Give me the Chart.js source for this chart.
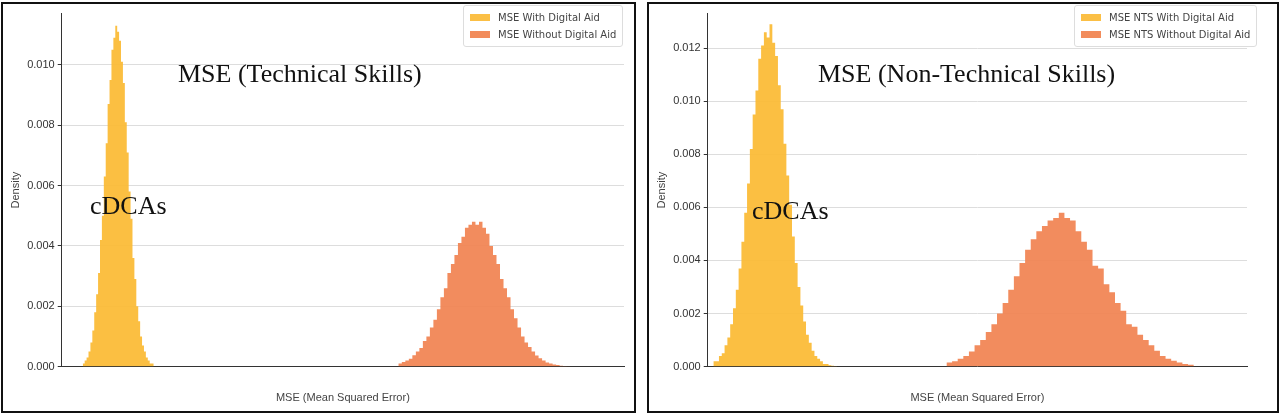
<!DOCTYPE html>
<html>
<head>
<meta charset="utf-8">
<script src="https://cdn.jsdelivr.net/npm/chart.js@4/dist/chart.umd.min.js"></script>
<style>
  body { margin: 0; background: #fff; width: 1280px; height: 419px; position: relative; overflow: hidden; font-family: "DejaVu Sans", sans-serif; }
  .panel { position: absolute; top: 2px; height: 411px; border: 2px solid #111; box-sizing: border-box; }
  .legend { position: absolute; background: rgba(255,255,255,0.9); border: 1px solid #ddd; border-radius: 3px; padding: 3px 6px; font-size: 10px; color: #444; }
  .legend div { display: flex; align-items: center; height: 17px; }
  .legend span { display: inline-block; width: 20px; height: 7px; margin-right: 8px; }
  .note { position: absolute; font-family: "Liberation Serif", serif; color: #111; }
</style>
</head>
<body>
<div class="panel" style="left:1px;width:635px"><canvas id="c1"></canvas></div>
<div class="panel" style="left:647px;width:632px"><canvas id="c2"></canvas></div>

<div class="legend" style="left:463px;top:5px">
  <div><span style="background:#FBBF45"></span>MSE With Digital Aid</div>
  <div><span style="background:#F28C5C"></span>MSE Without Digital Aid</div>
</div>
<div class="legend" style="left:1074px;top:5px">
  <div><span style="background:#FBBF45"></span>MSE NTS With Digital Aid</div>
  <div><span style="background:#F28C5C"></span>MSE NTS Without Digital Aid</div>
</div>
<div class="note" style="left:178px;top:59px;font-size:26px">MSE (Technical Skills)</div>
<div class="note" style="left:90px;top:191px;font-size:26px">cDCAs</div>
<div class="note" style="left:818px;top:59px;font-size:26px">MSE (Non-Technical Skills)</div>
<div class="note" style="left:752px;top:196px;font-size:26px">cDCAs</div>

<script>
// histogram bins: start of first bin and bin width, then densities
const tsWithStart = 342, tsWithWidth = 6;
const tsWith = [.0001, .0001, .0002, .0003, .0005, .0008, .0012, .0018, .0024, .0031, .0042, .0050, .0063, .0074, .0087, .0095, .0105, .0109, .0113, .0111, .0108, .0101, .0094, .0081, .0071, .0058, .0049, .0036, .0029, .0020, .0015, .0010, .0007, .0005, .0003, .0002, .0001, .0001];

const tsWithoutStart = 1332, tsWithoutWidth = 11;
const tsWithout = [.00007, .0001, .00015, .0002, .00026, .00038, .0005, .00062, .00085, .001, .0013, .00155, .0019, .0023, .0026, .0031, .0034, .0037, .0041, .0043, .0046, .0047, .0048, .0047, .0048, .0046, .0044, .0040, .0037, .0034, .0029, .0026, .0023, .0019, .0016, .0013, .0010, .0008, .00065, .0005, .00037, .00028, .0002, .00014, .0001, .00007, .00005, .00003, .00002, .00001];

const ntsWithStart = 255, ntsWithWidth = 5;
const ntsWith = [.0001, .0002, .0002, .0004, .0005, .0008, .0011, .0016, .0022, .0029, .0037, .0047, .0058, .0069, .0082, .0095, .0104, .0116, .0121, .0126, .0124, .0129, .0122, .0117, .0106, .0097, .0084, .0072, .0061, .0049, .0039, .0030, .0023, .0017, .0012, .0009, .0006, .0004, .0003, .0002, .0001, .0001, .00005, .00003, .00002];

const ntsWithoutStart = 670, ntsWithoutWidth = 10;
const ntsWithout = [.0001, .00015, .0002, .0003, .0004, .00057, .0008, .001, .0013, .0016, .002, .0024, .0029, .0034, .0039, .0044, .0048, .0051, .0053, .0055, .0056, .0058, .0056, .0055, .0051, .0047, .0044, .0038, .0037, .0031, .0028, .0024, .0021, .0016, .0015, .0012, .001, .0008, .0006, .0004, .0003, .00022, .00015, .0001, .00007];

const leftX = { min: 276, max: 2040, step: 200 }, leftY = { max: 0.0117, step: 0.002 };
const rightX = { min: 245, max: 1205, step: 200 }, rightY = { max: 0.0133, step: 0.002 };

const YELLOW = 'rgba(251,186,50,0.92)', ORANGE = 'rgba(241,130,80,0.92)';

// left bin edges with their density, closed by the right edge at zero
function toPoints(start, width, vals) {
  const pts = vals.map((v, i) => ({ x: start + width * i, y: v }));
  pts.push({ x: start + width * vals.length, y: 0 });
  return pts;
}

const isMultiple = (v, step) => Math.abs(v / step - Math.round(v / step)) < 1e-6;

function makeChart(id, sets, xr, yr, pad) {
  new Chart(document.getElementById(id), {
    type: 'line',
    data: {
      datasets: sets.map(s => ({
        data: toPoints(s.start, s.width, s.vals),
        backgroundColor: s.color,
        borderWidth: 0,
        pointRadius: 0,
        stepped: 'after',
        fill: 'origin'
      }))
    },
    options: {
      animation: false,
      responsive: true,
      maintainAspectRatio: false,
      layout: { padding: pad },
      plugins: { legend: { display: false }, tooltip: { enabled: false } },
      scales: {
        x: {
          type: 'linear', min: xr.min, max: xr.max,
          ticks: { stepSize: xr.step, color: '#333', font: { size: 11 }, maxRotation: 0, autoSkip: false,
                   callback: v => isMultiple(v, xr.step) ? String(v) : '' },
          grid: { color: c => isMultiple(c.tick.value, xr.step) ? '#ddd' : 'rgba(0,0,0,0)',
                  tickColor: c => isMultiple(c.tick.value, xr.step) ? '#333' : 'rgba(0,0,0,0)', tickLength: 4 },
          border: { color: '#333' },
          title: { display: true, text: 'MSE (Mean Squared Error)', color: '#444', font: { size: 11 }, padding: 2 }
        },
        y: {
          min: 0, max: yr.max,
          ticks: { stepSize: yr.step, color: '#333', font: { size: 11 }, autoSkip: false,
                   callback: v => isMultiple(v, yr.step) ? v.toFixed(3) : '' },
          grid: { color: c => isMultiple(c.tick.value, yr.step) ? '#ddd' : 'rgba(0,0,0,0)',
                  tickColor: c => isMultiple(c.tick.value, yr.step) ? '#333' : 'rgba(0,0,0,0)', tickLength: 4 },
          border: { color: '#333' },
          title: { display: true, text: 'Density', color: '#444', font: { size: 11 }, padding: 2 }
        }
      }
    }
  });
}

makeChart('c1', [
  { start: tsWithStart, width: tsWithWidth, vals: tsWith, color: YELLOW },
  { start: tsWithoutStart, width: tsWithoutWidth, vals: tsWithout, color: ORANGE }
], leftX, leftY, { left: 4, right: 10, top: 2, bottom: 4 });

makeChart('c2', [
  { start: ntsWithStart, width: ntsWithWidth, vals: ntsWith, color: YELLOW },
  { start: ntsWithoutStart, width: ntsWithoutWidth, vals: ntsWithout, color: ORANGE }
], rightX, rightY, { left: 4, right: 30, top: 2, bottom: 4 });
</script>
</body>
</html>
